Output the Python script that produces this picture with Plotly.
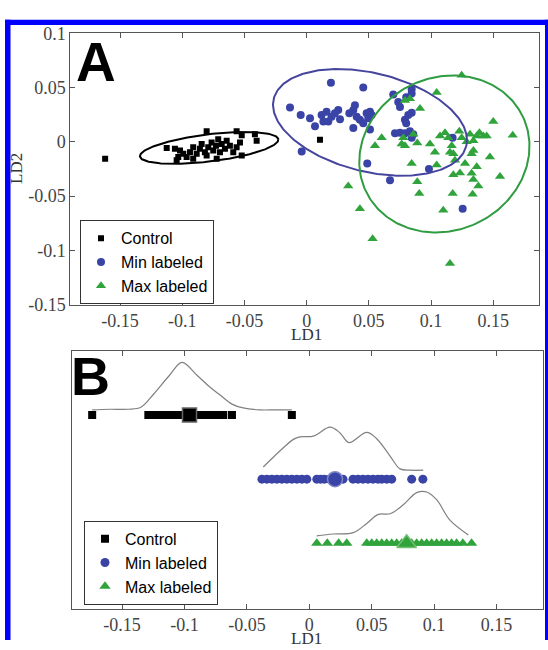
import numpy as np
import plotly.graph_objects as go

# ---------------- Panel A data (LD1, LD2) ----------------
control_ld1 = [-0.162, -0.0804, -0.0563, -0.0522, -0.0416, -0.0402, -0.1125, -0.1059, -0.1018, -0.1032,
               -0.0992, -0.0965, -0.0938, -0.0912, -0.0884, -0.0858, -0.0844, -0.0818, -0.0791, -0.0764,
               -0.0751, -0.0729, -0.0711, -0.0697, -0.0683, -0.0657, -0.0643, -0.0723, -0.0617, -0.0590,
               -0.0563, -0.0536, -0.0522, -0.1045, -0.0912, -0.0804, 0.0107]
control_ld2 = [-0.0155, 0.0098, 0.0098, 0.0060, 0.0069, 0.0009, -0.0056, -0.0065, -0.0080, -0.0140,
               -0.0110, -0.0140, -0.0095, -0.0051, -0.0110, -0.0065, -0.0021, -0.0095, -0.0051, -0.0006,
               -0.0080, -0.0036, 0.0024, -0.0095, -0.0021, -0.0065, 0.0009, -0.0155, -0.0036, -0.0095,
               -0.0051, -0.0006, -0.0125, -0.0170, -0.0155, -0.0125, 0.0018]

min_ld1 = [0.0195, 0.0455, -0.0134, -0.0048, 0.0027, 0.0067, 0.0120, 0.0134, 0.0160, 0.0174,
           0.0200, 0.0227, 0.0254, 0.0268, 0.0343, 0.0375, 0.0388, 0.0402, 0.0375, 0.0428,
           0.0455, 0.0482, 0.0509, 0.0522, 0.0495, 0.0509, 0.0696, 0.0736, 0.0800, 0.0844,
           0.0844, 0.0750, 0.0817, 0.0844, 0.0790, 0.0800, 0.0710, 0.0750, 0.0790, 0.0830,
           0.0857, 0.0844, -0.0040, 0.0487, 0.0670, 0.0983, 0.1173, 0.1254]
min_ld2 = [0.0545, 0.0500, 0.0315, 0.0247, 0.0217, 0.0143, 0.0247, 0.0188, 0.0277, 0.0188,
           0.0232, 0.0262, 0.0292, 0.0208, 0.0262, 0.0292, 0.0337, 0.0232, 0.0128, 0.0203,
           0.0172, 0.0262, 0.0277, 0.0247, 0.0217, 0.0113, 0.0435, 0.0366, 0.0410, 0.0446,
           0.0485, 0.0321, 0.0247, 0.0268, 0.0203, 0.0172, 0.0078, 0.0083, 0.0078, 0.0098,
           0.0069, 0.0038, -0.0089, -0.0199, -0.0354, -0.0250, 0.0038, -0.0616]

max_ld1 = [0.1246, 0.1045, 0.0911, 0.0830, 0.0790, 0.1500, 0.1656, 0.0603, 0.0549, 0.0777,
           0.0764, 0.0790, 0.0857, 0.0889, 0.0844, 0.0991, 0.1031, 0.1045, 0.1072, 0.1112,
           0.1138, 0.1166, 0.1152, 0.1179, 0.1192, 0.1227, 0.1246, 0.1286, 0.1313, 0.1340,
           0.1367, 0.1388, 0.1420, 0.1447, 0.1340, 0.1326, 0.1273, 0.1367, 0.1326, 0.1340,
           0.1380, 0.1473, 0.1554, 0.1179, 0.1174, 0.1334, 0.1098, 0.0889, 0.0905, 0.0334,
           0.0428, 0.0530, 0.1152, 0.1232]
max_ld2 = [0.0613, 0.0455, 0.0306, 0.0396, 0.0380, 0.0188, 0.0060, 0.0038, -0.0036, 0.0038,
           -0.0021, -0.0036, 0.0069, -0.0012, -0.0199, -0.0021, -0.0095, -0.0214, 0.0054, 0.0083,
           0.0038, -0.0036, -0.0095, -0.0110, -0.0170, 0.0098, 0.0038, 0.0000, 0.0069, 0.0009,
           0.0054, 0.0083, 0.0054, 0.0054, -0.0080, -0.0110, -0.0199, -0.0229, -0.0289, -0.0348,
           -0.0408, -0.0140, -0.0319, -0.0304, -0.0476, -0.0482, -0.0631, -0.0369, -0.0476, -0.0408,
           -0.0616, -0.0893, -0.1122, -0.0288]

# ellipses: centre, major semi-axis vector, minor semi-axis vector (data units)
ell_control = dict(c=(-0.0784, -0.0056), u=(0.0556, 0.0079), v=(0.0014, -0.0124))
ell_min = dict(c=(0.0509, 0.0179), u=(0.0773, -0.0221), v=(-0.0101, -0.0439))
ell_max = dict(c=(0.1107, -0.0112), u=(0.0597, 0.0414), v=(0.0334, -0.0593))

# ---------------- Panel B data (LD1 only) ----------------
b_control = [-0.174, -0.129, -0.126, -0.123, -0.120, -0.117, -0.114, -0.111, -0.108, -0.105,
             -0.102, -0.100, -0.098, -0.094, -0.092, -0.090, -0.088, -0.086, -0.083, -0.080,
             -0.077, -0.075, -0.072, -0.069, -0.062, -0.014]
b_min = [-0.038, -0.034, -0.030, -0.026, -0.022, -0.018, -0.014, -0.010, -0.006, -0.002,
         0.006, 0.009, 0.012, 0.016, 0.023, 0.027, 0.035, 0.039, 0.043, 0.047,
         0.051, 0.055, 0.058, 0.062, 0.066, 0.082, 0.091]
b_max = [0.006, 0.0144, 0.0235, 0.030, 0.046, 0.050, 0.054, 0.058, 0.062, 0.066,
         0.070, 0.074, 0.082, 0.086, 0.090, 0.094, 0.098, 0.102, 0.106, 0.110,
         0.114, 0.118, 0.123, 0.130]
b_means = [-0.096, 0.0206, 0.078]
b_levels = [3, 2, 1]

dens_control_x = [-0.174, -0.160, -0.145, -0.135, -0.125, -0.112, -0.102, -0.090, -0.080, -0.072,
                  -0.062, -0.053, -0.040, -0.027, -0.014]
dens_control_h = [0.08, 0.09, 0.09, 0.12, 0.32, 0.62, 0.82, 0.62, 0.44, 0.32,
                  0.17, 0.11, 0.08, 0.08, 0.08]
dens_min_x = [-0.0369, -0.0208, -0.0128, -0.0075, 0.0032, 0.0166, 0.0246, 0.0318, 0.0460, 0.0540,
              0.0647, 0.0727, 0.0807, 0.0913]
dens_min_h = [0.19, 0.49, 0.62, 0.66, 0.67, 0.81, 0.72, 0.57, 0.73, 0.63,
              0.36, 0.16, 0.14, 0.14]
dens_max_x = [0.0059, 0.0192, 0.0353, 0.0460, 0.0553, 0.0647, 0.0753, 0.0860, 0.0940, 0.1020,
              0.1127, 0.1274]
dens_max_h = [0.115, 0.145, 0.166, 0.31, 0.45, 0.46, 0.60, 0.79, 0.80, 0.68,
              0.36, 0.13]

names = ["Control", "Min labeled", "Max labeled"]
x_ticks = [-0.15, -0.1, -0.05, 0, 0.05, 0.1, 0.15]
x_ticktext = ["-0.15", "-0.1", "-0.05", "0", "0.05", "0.1", "0.15"]
y_ticks = [-0.15, -0.1, -0.05, 0, 0.05, 0.1]
y_ticktext = ["-0.15", "-0.1", "-0.05", "0", "0.05", "0.1"]

BLACK = "#000000"
BLUE = "#3a44a6"
GREEN = "#30a33c"
BLUE_LINE = "#45459e"
GREEN_LINE = "#2e9c40"

W, H = 548, 650
SERIF = "Liberation Serif, Times New Roman, serif"
SANS = "Liberation Sans, Arial, sans-serif"

fig = go.Figure()

def ellipse(e):
    t = np.linspace(0, 2 * np.pi, 240)
    cx, cy = e["c"]
    ux, uy = e["u"]
    vx, vy = e["v"]
    return cx + ux * np.cos(t) + vx * np.sin(t), cy + uy * np.cos(t) + vy * np.sin(t)

# Panel A scatter
fig.add_trace(go.Scatter(x=control_ld1, y=control_ld2, mode="markers", name=names[0],
                         marker=dict(symbol="square", size=6, color=BLACK),
                         xaxis="x", yaxis="y", legend="legend"))
fig.add_trace(go.Scatter(x=min_ld1, y=min_ld2, mode="markers", name=names[1],
                         marker=dict(symbol="circle", size=8, color=BLUE),
                         xaxis="x", yaxis="y", legend="legend"))
fig.add_trace(go.Scatter(x=max_ld1, y=max_ld2, mode="markers", name=names[2],
                         marker=dict(symbol="triangle-up", size=9, color=GREEN),
                         xaxis="x", yaxis="y", legend="legend"))
for e, col in [(ell_control, BLACK), (ell_min, BLUE_LINE), (ell_max, GREEN_LINE)]:
    ex, ey = ellipse(e)
    fig.add_trace(go.Scatter(x=ex, y=ey, mode="lines", line=dict(color=col, width=2),
                             showlegend=False, hoverinfo="skip", xaxis="x", yaxis="y"))

# Panel B
dens = [(dens_control_x, dens_control_h), (dens_min_x, dens_min_h), (dens_max_x, dens_max_h)]
for (dx, dh), lvl in zip(dens, b_levels):
    fig.add_trace(go.Scatter(x=dx, y=[lvl + h for h in dh], mode="lines",
                             line=dict(color="#808080", width=1.2, shape="spline", smoothing=1.0),
                             showlegend=False, hoverinfo="skip", xaxis="x2", yaxis="y2"))

strips = [(b_control, "square", 8, BLACK), (b_min, "circle", 9, BLUE), (b_max, "triangle-up", 10, GREEN)]
for i, ((vals, sym, sz, col), lvl) in enumerate(zip(strips, b_levels)):
    fig.add_trace(go.Scatter(x=vals, y=[lvl] * len(vals), mode="markers", name=names[i],
                             marker=dict(symbol=sym, size=sz, color=col),
                             xaxis="x2", yaxis="y2", legend="legend2"))
mean_syms = [("square", 14, BLACK, "#666666"), ("circle", 15, BLUE, "#8088c8"), ("triangle-up", 17, GREEN, "#70c070")]
for m, lvl, (sym, sz, col, lc) in zip(b_means, b_levels, mean_syms):
    fig.add_trace(go.Scatter(x=[m], y=[lvl], mode="markers",
                             marker=dict(symbol=sym, size=sz, color=col, line=dict(color=lc, width=1.5)),
                             showlegend=False, xaxis="x2", yaxis="y2"))

axis_common = dict(showline=True, linecolor="#555555", linewidth=1, mirror="ticks",
                   ticks="inside", ticklen=5, tickcolor="#555555", showgrid=False, zeroline=False,
                   tickfont=dict(family=SERIF, size=18, color="#444444"))

legend_common = dict(xanchor="left", yanchor="top", xref="paper", yref="paper",
                     bgcolor="white", bordercolor="#333333", borderwidth=1,
                     font=dict(family=SANS, size=16, color="#000000"), tracegroupgap=0)

fig.update_layout(
    width=W, height=H, autosize=False,
    margin=dict(l=0, r=0, t=0, b=0),
    paper_bgcolor="white", plot_bgcolor="white",
    xaxis=dict(domain=[70.3 / W, 539.3 / W], range=[-0.19, 0.187], anchor="y",
               tickvals=x_ticks, ticktext=x_ticktext, **axis_common),
    yaxis=dict(domain=[1 - 304 / H, 1 - 24 / H], range=[-0.15, 0.1], anchor="x",
               tickvals=y_ticks, ticktext=y_ticktext, **axis_common),
    xaxis2=dict(domain=[72.2 / W, 542.7 / W], range=[-0.19, 0.187], anchor="y2",
                tickvals=x_ticks, ticktext=x_ticktext, **axis_common),
    yaxis2=dict(domain=[1 - 617.7 / H, 1 - 351.7 / H], range=[-0.02, 4.0], anchor="x2",
                showline=True, linecolor="#555555", mirror=True, ticks="", showticklabels=False,
                showgrid=False, zeroline=False),
    legend=dict(x=80 / W, y=1 - 217 / H, **legend_common),
    legend2=dict(x=84 / W, y=1 - 527 / H, **legend_common),
    showlegend=True,
)

annotations = [
    dict(text="<b>A</b>", x=74 / W, y=1 - 20 / H, xanchor="left", yanchor="top",
         font=dict(family=SANS, size=55, color="black")),
    dict(text="<b>B</b>", x=69 / W, y=1 - 345 / H, xanchor="left", yanchor="top",
         font=dict(family=SANS, size=54, color="black")),
    dict(text="LD1", x=306 / W, y=1 - 335 / H, xanchor="center", yanchor="middle",
         font=dict(family=SERIF, size=17, color="#333333")),
    dict(text="LD1", x=306 / W, y=1 - 648 / H, xanchor="center", yanchor="middle",
         font=dict(family=SERIF, size=17, color="#333333")),
    dict(text="LD2", x=17 / W, y=1 - 164 / H, xanchor="center", yanchor="middle", textangle=-90,
         font=dict(family=SERIF, size=17, color="#333333")),
]
for a in annotations:
    a.update(xref="paper", yref="paper", showarrow=False)
fig.update_layout(annotations=annotations)

# blue frame around the figure
BORDER = "#0000ff"
shapes = [
    dict(type="rect", x0=5 / W, x1=10.5 / W, y0=0, y1=1 - 10 / H),
    dict(type="rect", x0=5 / W, x1=1, y0=1 - 15.5 / H, y1=1 - 10 / H),
    dict(type="rect", x0=545 / W, x1=1, y0=0, y1=1 - 10 / H),
]
for s in shapes:
    s.update(xref="paper", yref="paper", fillcolor=BORDER, line=dict(width=0), layer="above")
fig.update_layout(shapes=shapes)

POST = ("document.documentElement.style.margin='0';document.body.style.margin='0';"
        "document.body.style.overflow='hidden';"
        "var gd=document.getElementById('{plot_id}');gd.style.position='fixed';"
        "gd.style.top='0px';gd.style.left='0px';")

fig.write_html("out.html", config={"responsive": False, "displayModeBar": False},
               post_script=POST)
